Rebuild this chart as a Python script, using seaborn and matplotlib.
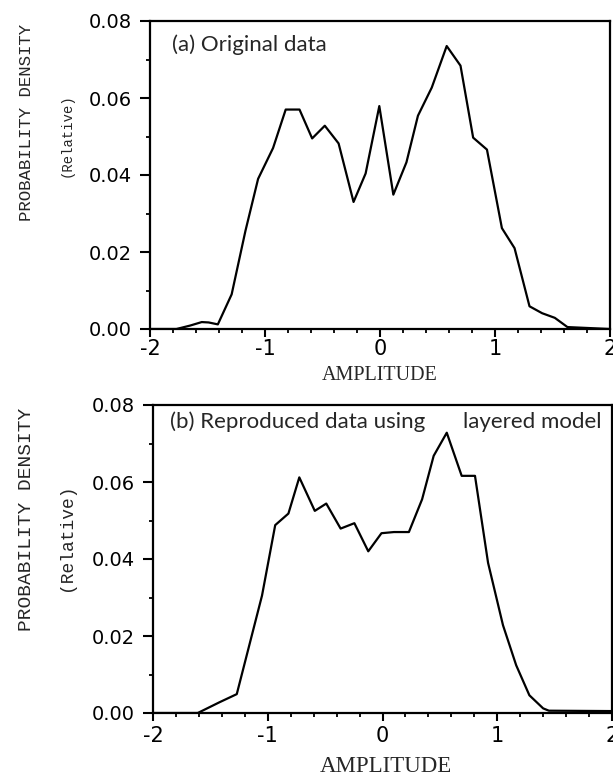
import matplotlib
matplotlib.use("Agg")
import matplotlib.pyplot as plt
from matplotlib.ticker import MultipleLocator
import seaborn as sns
import pandas as pd

# ---- data ----
amp_a = [-2.0, -1.77, -1.65, -1.55, -1.49, -1.41, -1.29, -1.17, -1.06, -0.93, -0.82,
         -0.70, -0.59, -0.48, -0.36, -0.23, -0.125, -0.006, 0.116, 0.23, 0.33, 0.45,
         0.58, 0.70, 0.81, 0.93, 1.06, 1.17, 1.30, 1.41, 1.52, 1.63, 2.0]
dens_a = [0, 0, 0.0009, 0.0018, 0.0017, 0.0012, 0.0090, 0.0255, 0.0390, 0.0470, 0.0570,
          0.0570, 0.0495, 0.0528, 0.0482, 0.0330, 0.0404, 0.0579, 0.0349, 0.0433, 0.0554,
          0.0627, 0.0735, 0.0684, 0.0497, 0.0466, 0.0262, 0.0210, 0.0059, 0.0041, 0.0029,
          0.0005, 0]

amp_b = [-2.0, -1.61, -1.42, -1.27, -1.05, -0.935, -0.82, -0.725, -0.59, -0.49, -0.365,
         -0.245, -0.124, -0.009, 0.10, 0.23, 0.345, 0.446, 0.56, 0.69, 0.806, 0.92, 1.05,
         1.165, 1.28, 1.40, 1.45, 2.0]
dens_b = [0, 0, 0.0028, 0.0049, 0.0305, 0.0488, 0.0518, 0.0612, 0.0525, 0.0544, 0.0479,
          0.0493, 0.0420, 0.0467, 0.0470, 0.0470, 0.0555, 0.0668, 0.0728, 0.0616, 0.0616,
          0.0390, 0.0228, 0.0124, 0.0046, 0.0012, 0.0006, 0.0005]

x_ticks = [-2, -1, 0, 1, 2]
x_tick_labels = ["-2", "-1", "0", "1", "2"]
y_ticks = [0.00, 0.02, 0.04, 0.06, 0.08]
y_tick_labels = ["0.00", "0.02", "0.04", "0.06", "0.08"]

xlabel = "AMPLITUDE"
ylabel1 = "PROBABILITY DENSITY"
ylabel2 = "(Relative)"
title_a = "(a) Original data"
title_b1 = "(b) Reproduced data using"
title_b2 = "layered model"

df_a = pd.DataFrame({"amp": amp_a, "dens": dens_a})
df_b = pd.DataFrame({"amp": amp_b, "dens": dens_b})

sns.set_theme(style="ticks")
plt.rcParams["font.family"] = ["DejaVu Sans"]

fig = plt.figure(figsize=(6.13, 7.78), dpi=100)
W, H = 613, 778
ax_a = fig.add_axes([150 / W, 1 - 329 / H, 460 / W, 308 / H])
ax_b = fig.add_axes([153 / W, 1 - 713 / H, 459 / W, 308 / H])

cfg = {"a": dict(xl=14.5, xpad=2.0, xlab=(0.5, (329 - 376) / 308)),
       "b": dict(xl=16.5, xpad=3.5, xlab=((386 - 153) / 459, (713 - 767) / 308))}

for key, ax, df in [("a", ax_a, df_a), ("b", ax_b, df_b)]:
    c = cfg[key]
    sns.lineplot(data=df, x="amp", y="dens", ax=ax, color="black", linewidth=1.6,
                 sort=False, estimator=None)
    ax.set_xlim(-2, 2)
    ax.set_ylim(0, 0.08)
    ax.set_xticks(x_ticks)
    ax.set_xticklabels(x_tick_labels)
    ax.set_yticks(y_ticks)
    ax.set_yticklabels(y_tick_labels)
    ax.xaxis.set_minor_locator(MultipleLocator(0.2))
    ax.yaxis.set_minor_locator(MultipleLocator(0.01))
    ax.tick_params(axis="x", which="major", direction="out", length=5.5, width=1.5,
                   labelsize=15, colors="black", pad=c["xpad"])
    ax.tick_params(axis="y", which="major", direction="out", length=7, width=1.5,
                   labelsize=14, colors="black", pad=6)
    ax.tick_params(axis="both", which="minor", direction="out", length=3, width=1.3,
                   colors="black")
    for sp in ax.spines.values():
        sp.set_visible(True)
        sp.set_linewidth(1.6)
        sp.set_color("black")
    ax.set_xlabel(xlabel, fontsize=c["xl"], family=["Liberation Serif", "DejaVu Serif"])
    ax.xaxis.label.set_va("center")
    ax.xaxis.set_label_coords(*c["xlab"])
    ax.set_ylabel("")
    ax.set_facecolor("white")

# panel texts
tfont = ["Lato", "DejaVu Sans"]
ax_a.text((172 - 150) / 460, 1 - (45 - 21) / 308, title_a, transform=ax_a.transAxes,
          fontsize=16, family=tfont, va="center", ha="left")
ax_b.text((170 - 153) / 459, 1 - (422 - 405) / 308, title_b1, transform=ax_b.transAxes,
          fontsize=16, family=tfont, va="center", ha="left")
ax_b.text((463 - 153) / 459, 1 - (422 - 405) / 308, title_b2, transform=ax_b.transAxes,
          fontsize=16, family=tfont, va="center", ha="left")

# y labels (two lines, monospace)
mono = ["Liberation Mono", "DejaVu Sans Mono"]
fig.text(27 / W, 1 - 122 / H, ylabel1, rotation=90, ha="center", va="center",
         fontsize=12.5, family=mono)
fig.text(67 / W, 1 - 135 / H, ylabel2, rotation=90, ha="center", va="center",
         fontsize=10, family=mono)
fig.text(27 / W, 1 - 519 / H, ylabel1, rotation=90, ha="center", va="center",
         fontsize=14, family=mono)
fig.text(67 / W, 1 - 537 / H, ylabel2, rotation=90, ha="center", va="center",
         fontsize=13, family=mono)

fig.savefig("out.png", dpi=100, facecolor="white")
